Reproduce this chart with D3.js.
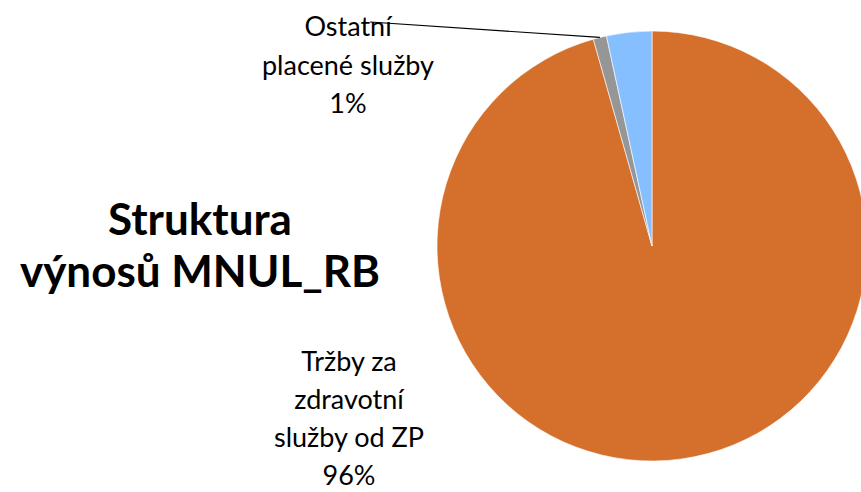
<!DOCTYPE html>
<html>
<head>
<meta charset="utf-8">
<script src="https://cdn.jsdelivr.net/npm/d3@7"></script>
<style>
  body { margin: 0; background: #fff; }
  svg { display: block; font-family: Lato, "Open Sans", sans-serif; }
</style>
</head>
<body>
<script>
var width = 861;
var height = 492;

// slices clockwise from 12 o'clock
var categories = ["Tržby za zdravotní služby od ZP", "Ostatní placené služby", "Ostatní"];
var values = [95.6, 1.0, 3.4];
var colors = ["#D46F2C", "#969696", "#86BFFF"];

var titleLines = ["Struktura", "výnosů MNUL_RB"];
var labelZP = ["Tržby za", "zdravotní", "služby od ZP", "96%"];
var labelOther = ["Ostatní", "placené služby", "1%"];

var cx = 652, cy = 246, r = 215;

var svg = d3.select("body").append("svg")
    .attr("width", width)
    .attr("height", height);

var data = values.map((v, i) => ({ name: categories[i], value: v, color: colors[i] }));

var pie = d3.pie().value((d) => d.value).sort(null);
var arc = d3.arc().innerRadius(0).outerRadius(r);

var g = svg.append("g").attr("transform", `translate(${cx}, ${cy})`);

var arcs = pie(data);

g.selectAll("path")
    .data(arcs)
    .enter()
    .append("path")
    .attr("d", arc)
    .attr("fill", (d) => d.data.color)
    .attr("stroke", "#fff")
    .attr("stroke-width", 0.6);

// title
svg.append("text")
    .attr("x", 200)
    .attr("y", 235)
    .attr("text-anchor", "middle")
    .attr("font-size", "44px")
    .attr("font-weight", "bold")
    .attr("fill", "#000")
    .selectAll("tspan")
    .data(titleLines)
    .enter()
    .append("tspan")
    .attr("x", 200)
    .attr("dy", (d, i) => i === 0 ? 0 : 52)
    .text((d) => d);

// big slice label
svg.append("text")
    .attr("x", 349)
    .attr("y", 371)
    .attr("text-anchor", "middle")
    .attr("font-size", "27px")
    .attr("fill", "#000")
    .selectAll("tspan")
    .data(labelZP)
    .enter()
    .append("tspan")
    .attr("x", 349)
    .attr("dy", (d, i) => i === 0 ? 0 : 38)
    .text((d) => d);

// small slice label with leader line
var grey = arcs[1];
var mid = (grey.startAngle + grey.endAngle) / 2;
var px = cx + r * Math.sin(mid);
var py = cy - r * Math.cos(mid);

svg.append("text")
    .attr("x", 348)
    .attr("y", 36)
    .attr("text-anchor", "middle")
    .attr("font-size", "27px")
    .attr("fill", "#000")
    .selectAll("tspan")
    .data(labelOther)
    .enter()
    .append("tspan")
    .attr("x", 348)
    .attr("dy", (d, i) => i === 0 ? 0 : 38.5)
    .text((d) => d);

svg.append("line")
    .attr("x1", 370)
    .attr("y1", 22)
    .attr("x2", px)
    .attr("y2", py)
    .attr("stroke", "#000")
    .attr("stroke-width", 1.2);
</script>
</body>
</html>
